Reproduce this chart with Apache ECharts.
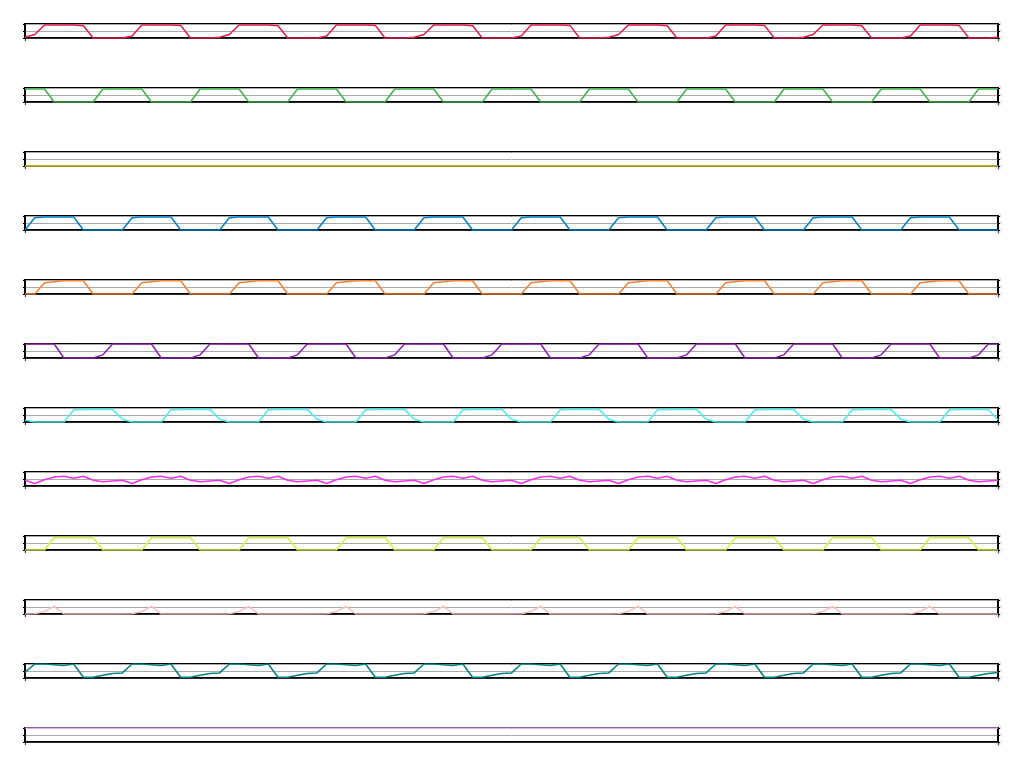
<!DOCTYPE html>
<html>
<head>
<meta charset="utf-8">
<style>
  html, body { margin: 0; padding: 0; background: #fff; }
  #chart { width: 1024px; height: 768px; }
</style>
<script src="https://cdn.jsdelivr.net/npm/echarts@6/dist/echarts.min.js"></script>
</head>
<body>
<div id="chart"></div>
<script>
// sample index on the x axis
const steps = [
  0, 1, 2, 3, 4, 5, 6, 7, 8, 9, 10, 11, 12, 13, 14, 15, 16, 17, 18, 19,
  20, 21, 22, 23, 24, 25, 26, 27, 28, 29, 30, 31, 32, 33, 34, 35, 36, 37, 38, 39,
  40, 41, 42, 43, 44, 45, 46, 47, 48, 49, 50, 51, 52, 53, 54, 55, 56, 57, 58, 59,
  60, 61, 62, 63, 64, 65, 66, 67, 68, 69, 70, 71, 72, 73, 74, 75, 76, 77, 78, 79,
  80, 81, 82, 83, 84, 85, 86, 87, 88, 89, 90, 91, 92, 93, 94, 95, 96, 97, 98, 99, 100
]
const yTicks = [-1, 0, 1]

const ch1 = [
  -0.9,-0.5,0.85,0.85,0.85,0.85,0.75,-1,-1,-1,
  -1,-0.7,0.85,0.85,0.85,0.85,0.8,-1,-1,-1,
  -0.9,-0.5,0.85,0.85,0.85,0.85,0.75,-1,-1,-1,
  -1,-0.7,0.85,0.85,0.85,0.85,0.8,-1,-1,-1,
  -0.9,-0.5,0.85,0.85,0.85,0.85,0.75,-1,-1,-1,
  -1,-0.7,0.85,0.85,0.85,0.85,0.8,-1,-1,-1,
  -0.9,-0.5,0.85,0.85,0.85,0.85,0.75,-1,-1,-1,
  -1,-0.7,0.85,0.85,0.85,0.85,0.8,-1,-1,-1,
  -0.9,-0.5,0.85,0.85,0.85,0.85,0.75,-1,-1,-1,
  -1,-0.7,0.85,0.85,0.85,0.85,0.8,-1,-1,-1,
  -0.9
]
const ch2 = [
  0.85,0.85,0.85,-1,-1,-1,-1,-1,0.85,0.85,
  0.85,0.85,0.85,-1,-1,-1,-1,-1,0.85,0.85,
  0.85,0.85,0.85,-1,-1,-1,-1,-1,0.85,0.85,
  0.85,0.85,0.85,-1,-1,-1,-1,-1,0.85,0.85,
  0.85,0.85,0.85,-1,-1,-1,-1,-1,0.85,0.85,
  0.85,0.85,0.85,-1,-1,-1,-1,-1,0.85,0.85,
  0.85,0.85,0.85,-1,-1,-1,-1,-1,0.85,0.85,
  0.85,0.85,0.85,-1,-1,-1,-1,-1,0.85,0.85,
  0.85,0.85,0.85,-1,-1,-1,-1,-1,0.85,0.85,
  0.85,0.85,0.85,-1,-1,-1,-1,-1,0.85,0.85,
  0.85
]
const ch3 = [
  -1,-1,-1,-1,-1,-1,-1,-1,-1,-1,
  -1,-1,-1,-1,-1,-1,-1,-1,-1,-1,
  -1,-1,-1,-1,-1,-1,-1,-1,-1,-1,
  -1,-1,-1,-1,-1,-1,-1,-1,-1,-1,
  -1,-1,-1,-1,-1,-1,-1,-1,-1,-1,
  -1,-1,-1,-1,-1,-1,-1,-1,-1,-1,
  -1,-1,-1,-1,-1,-1,-1,-1,-1,-1,
  -1,-1,-1,-1,-1,-1,-1,-1,-1,-1,
  -1,-1,-1,-1,-1,-1,-1,-1,-1,-1,
  -1,-1,-1,-1,-1,-1,-1,-1,-1,-1,
  -1
]
const ch4 = [
  -1,0.75,0.85,0.85,0.85,0.85,-1,-1,-1,-1,
  -1,0.75,0.85,0.85,0.85,0.85,-1,-1,-1,-1,
  -1,0.75,0.85,0.85,0.85,0.85,-1,-1,-1,-1,
  -1,0.75,0.85,0.85,0.85,0.85,-1,-1,-1,-1,
  -1,0.75,0.85,0.85,0.85,0.85,-1,-1,-1,-1,
  -1,0.75,0.85,0.85,0.85,0.85,-1,-1,-1,-1,
  -1,0.75,0.85,0.85,0.85,0.85,-1,-1,-1,-1,
  -1,0.75,0.85,0.85,0.85,0.85,-1,-1,-1,-1,
  -1,0.75,0.85,0.85,0.85,0.85,-1,-1,-1,-1,
  -1,0.75,0.85,0.85,0.85,0.85,-1,-1,-1,-1,
  -1
]
const ch5 = [
  -1,-1,0.6,0.75,0.88,0.9,0.9,-1,-1,-1,
  -1,-1,0.6,0.75,0.88,0.9,0.9,-1,-1,-1,
  -1,-1,0.6,0.75,0.88,0.9,0.9,-1,-1,-1,
  -1,-1,0.6,0.75,0.88,0.9,0.9,-1,-1,-1,
  -1,-1,0.6,0.75,0.88,0.9,0.9,-1,-1,-1,
  -1,-1,0.6,0.75,0.88,0.9,0.9,-1,-1,-1,
  -1,-1,0.6,0.75,0.88,0.9,0.9,-1,-1,-1,
  -1,-1,0.6,0.75,0.88,0.9,0.9,-1,-1,-1,
  -1,-1,0.6,0.75,0.88,0.9,0.9,-1,-1,-1,
  -1,-1,0.6,0.75,0.88,0.9,0.9,-1,-1,-1,
  -1
]
const ch6 = [
  1,1,1,1,-1,-1,-1,-1,-0.55,1,
  1,1,1,1,-1,-1,-1,-1,-0.55,1,
  1,1,1,1,-1,-1,-1,-1,-0.55,1,
  1,1,1,1,-1,-1,-1,-1,-0.55,1,
  1,1,1,1,-1,-1,-1,-1,-0.55,1,
  1,1,1,1,-1,-1,-1,-1,-0.55,1,
  1,1,1,1,-1,-1,-1,-1,-0.55,1,
  1,1,1,1,-1,-1,-1,-1,-0.55,1,
  1,1,1,1,-1,-1,-1,-1,-0.55,1,
  1,1,1,1,-1,-1,-1,-1,-0.55,1,
  1
]
const ch7 = [
  -0.7,-1,-1,-1,-1,0.75,0.8,0.8,0.8,0.8,
  -0.6,-1,-1,-1,-1,0.75,0.8,0.8,0.8,0.8,
  -0.6,-1,-1,-1,-1,0.75,0.8,0.8,0.8,0.8,
  -0.6,-1,-1,-1,-1,0.75,0.8,0.8,0.8,0.8,
  -0.6,-1,-1,-1,-1,0.75,0.8,0.8,0.8,0.8,
  -0.6,-1,-1,-1,-1,0.75,0.8,0.8,0.8,0.8,
  -0.6,-1,-1,-1,-1,0.75,0.8,0.8,0.8,0.8,
  -0.6,-1,-1,-1,-1,0.75,0.8,0.8,0.8,0.8,
  -0.6,-1,-1,-1,-1,0.75,0.8,0.8,0.8,0.8,
  -0.6,-1,-1,-1,-1,0.75,0.8,0.8,0.8,0.8,
  -0.7
]
const ch8 = [
  -0.18,-0.64,-0.1,0.28,0.4,0.1,0.4,-0.18,-0.4,-0.28,
  -0.18,-0.64,-0.1,0.28,0.4,0.1,0.4,-0.18,-0.4,-0.28,
  -0.18,-0.64,-0.1,0.28,0.4,0.1,0.4,-0.18,-0.4,-0.28,
  -0.18,-0.64,-0.1,0.28,0.4,0.1,0.4,-0.18,-0.4,-0.28,
  -0.18,-0.64,-0.1,0.28,0.4,0.1,0.4,-0.18,-0.4,-0.28,
  -0.18,-0.64,-0.1,0.28,0.4,0.1,0.4,-0.18,-0.4,-0.28,
  -0.18,-0.64,-0.1,0.28,0.4,0.1,0.4,-0.18,-0.4,-0.28,
  -0.18,-0.64,-0.1,0.28,0.4,0.1,0.4,-0.18,-0.4,-0.28,
  -0.18,-0.64,-0.1,0.28,0.4,0.1,0.4,-0.18,-0.4,-0.28,
  -0.18,-0.64,-0.1,0.28,0.4,0.1,0.4,-0.18,-0.4,-0.28,
  -0.18
]
const ch9 = [
  -1,-1,-1,0.75,0.75,0.75,0.75,0.75,-1,-1,
  -1,-1,-1,0.75,0.75,0.75,0.75,0.75,-1,-1,
  -1,-1,-1,0.75,0.75,0.75,0.75,0.75,-1,-1,
  -1,-1,-1,0.75,0.75,0.75,0.75,0.75,-1,-1,
  -1,-1,-1,0.75,0.75,0.75,0.75,0.75,-1,-1,
  -1,-1,-1,0.75,0.75,0.75,0.75,0.75,-1,-1,
  -1,-1,-1,0.75,0.75,0.75,0.75,0.75,-1,-1,
  -1,-1,-1,0.75,0.75,0.75,0.75,0.75,-1,-1,
  -1,-1,-1,0.75,0.75,0.75,0.75,0.75,-1,-1,
  -1,-1,-1,0.75,0.75,0.75,0.75,0.75,-1,-1,
  -1
]
const ch10 = [
  -1,-0.95,-0.65,0.1,-1,-1,-1,-1,-1,-1,
  -1,-0.95,-0.65,0.1,-1,-1,-1,-1,-1,-1,
  -1,-0.95,-0.65,0.1,-1,-1,-1,-1,-1,-1,
  -1,-0.95,-0.65,0.1,-1,-1,-1,-1,-1,-1,
  -1,-0.95,-0.65,0.1,-1,-1,-1,-1,-1,-1,
  -1,-0.95,-0.65,0.1,-1,-1,-1,-1,-1,-1,
  -1,-0.95,-0.65,0.1,-1,-1,-1,-1,-1,-1,
  -1,-0.95,-0.65,0.1,-1,-1,-1,-1,-1,-1,
  -1,-0.95,-0.65,0.1,-1,-1,-1,-1,-1,-1,
  -1,-0.95,-0.65,0.1,-1,-1,-1,-1,-1,-1,
  -1
]
const ch11 = [
  -0.2,1,1,0.9,0.77,1,-0.9,-0.9,-0.6,-0.35,
  -0.27,1,1,0.9,0.77,1,-0.9,-0.9,-0.6,-0.35,
  -0.27,1,1,0.9,0.77,1,-0.9,-0.9,-0.6,-0.35,
  -0.27,1,1,0.9,0.77,1,-0.9,-0.9,-0.6,-0.35,
  -0.27,1,1,0.9,0.77,1,-0.9,-0.9,-0.6,-0.35,
  -0.27,1,1,0.9,0.77,1,-0.9,-0.9,-0.6,-0.35,
  -0.27,1,1,0.9,0.77,1,-0.9,-0.9,-0.6,-0.35,
  -0.27,1,1,0.9,0.77,1,-0.9,-0.9,-0.6,-0.35,
  -0.27,1,1,0.9,0.77,1,-0.9,-0.9,-0.6,-0.35,
  -0.27,1,1,0.9,0.77,1,-0.9,-0.9,-0.6,-0.35,
  -0.2
]
const ch12 = [
  1,1,1,1,1,1,1,1,1,1,
  1,1,1,1,1,1,1,1,1,1,
  1,1,1,1,1,1,1,1,1,1,
  1,1,1,1,1,1,1,1,1,1,
  1,1,1,1,1,1,1,1,1,1,
  1,1,1,1,1,1,1,1,1,1,
  1,1,1,1,1,1,1,1,1,1,
  1,1,1,1,1,1,1,1,1,1,
  1,1,1,1,1,1,1,1,1,1,
  1,1,1,1,1,1,1,1,1,1,
  1
]

const channels = [ch1, ch2, ch3, ch4, ch5, ch6, ch7, ch8, ch9, ch10, ch11, ch12]
const colors = ['#e6194b', '#3cb44b', '#ffe119', '#0082c8', '#f58231', '#911eb4',
  '#46f0f0', '#f032e6', '#d2f53c', '#fabebe', '#008080', '#e6beff']

const chart = echarts.init(document.getElementById('chart'))

const grid = []
const xAxis = []
const yAxis = []
const series = []

channels.forEach((data, i) => {
  grid.push({
    left: 25,
    right: 26,
    top: 24 + i * 64,
    height: 14,
    show: true,
    borderColor: '#000',
    borderWidth: 2
  })
  xAxis.push({
    type: 'category',
    gridIndex: i,
    data: steps,
    boundaryGap: false,
    axisLine: { onZero: false, lineStyle: { color: '#000', width: 1.5 } },
    axisTick: { interval: 99, length: 3, lineStyle: { color: '#000' } },
    axisLabel: { interval: 99, fontSize: 3, color: '#bbb', margin: 2 },
    splitLine: { show: false }
  })
  // left and right value axes share the same range
  ;['left', 'right'].forEach(pos => {
    yAxis.push({
      type: 'value',
      gridIndex: i,
      position: pos,
      min: yTicks[0],
      max: yTicks[yTicks.length - 1],
      interval: 1,
      axisLine: { show: true, lineStyle: { color: '#000', width: 1.5 } },
      axisTick: { show: true, length: 2, lineStyle: { color: '#000' } },
      axisLabel: { fontSize: 3, color: '#aaa', margin: 2 },
      splitLine: { show: pos === 'left', lineStyle: { color: '#aaa', width: 1 } }
    })
  })
  series.push({
    type: 'line',
    xAxisIndex: i,
    yAxisIndex: i * 2,
    data: data,
    showSymbol: false,
    symbol: 'none',
    lineStyle: { color: colors[i], width: 1.5 },
    itemStyle: { color: colors[i] }
  })
})

chart.setOption({
  animation: false,
  grid: grid,
  xAxis: xAxis,
  yAxis: yAxis,
  series: series
})
</script>
</body>
</html>
